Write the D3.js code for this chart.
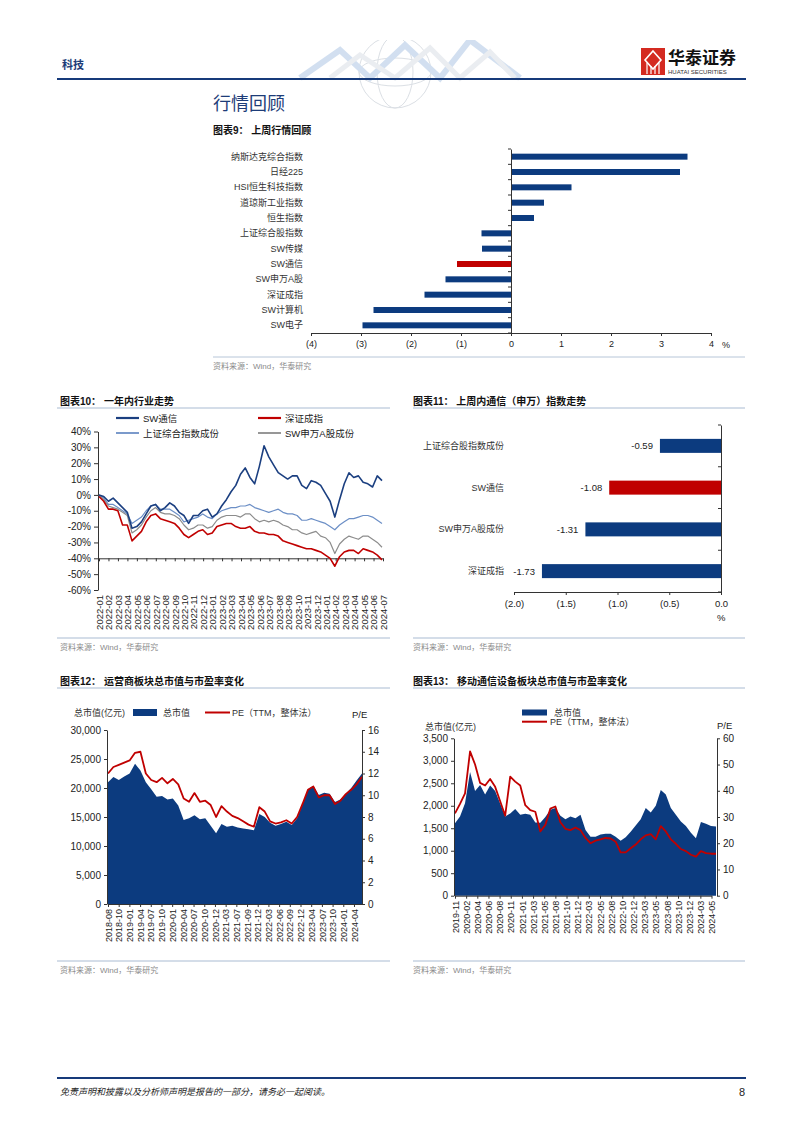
<!DOCTYPE html>
<html><head><meta charset="utf-8">
<script src="https://cdn.jsdelivr.net/npm/d3@7"></script>
<style>
body{margin:0;background:#fff}
svg{display:block}
text{font-family:"Liberation Sans","Noto Sans CJK SC",sans-serif}
</style>
</head><body>
<svg id="c" width="802" height="1133"></svg>
<script>
// ---------- DATA ----------
// Chart 9
const cats9 = ["纳斯达克综合指数","日经225","HSI恒生科技指数","道琼斯工业指数","恒生指数","上证综合股指数","SW传媒","SW通信","SW申万A股","深证成指","SW计算机","SW电子"];
const vals9 = [3.53,3.38,1.21,0.66,0.46,-0.59,-0.58,-1.08,-1.31,-1.73,-2.75,-2.97];
const ticks9 = [-4,-3,-2,-1,0,1,2,3,4];
// Chart 10 (half-month samples, 2022-01 .. 2024-07)
const months10 = ["2022-01","2022-02","2022-03","2022-04","2022-05","2022-06","2022-07","2022-08","2022-09","2022-10","2022-11","2022-12","2023-01","2023-02","2023-03","2023-04","2023-05","2023-06","2023-07","2023-08","2023-09","2023-10","2023-11","2023-12","2024-01","2024-02","2024-03","2024-04","2024-05","2024-06","2024-07"];
const swTongxin = [0,-1,-4,-2,-5,-8,-11,-21,-20,-17,-12,-7,-6,-10,-8,-5,-7,-11,-13,-18,-13,-13,-10,-9,-14,-12,-7,-3,2,6,13,17,11,7,18,31,24,19,14,12,10,12,12,6,4,9,8,6,1,-4,-14,-3,7,14,11,12,8,7,5,12,9];
const shangzheng = [0,-2,-6,-6,-8,-10,-12,-18,-16,-14,-10,-7,-6,-9,-9,-9,-11,-13,-17,-16,-15,-14,-12,-14,-15,-12,-10,-9,-8,-8,-7,-7,-6,-8,-9,-10,-11,-10,-9,-11,-12,-12,-13,-16,-16,-15,-16,-17,-18,-20,-22,-19,-17,-15,-15,-14,-13,-13,-14,-16,-18];
const swAll = [0,-3,-7,-8,-9,-11,-13,-24,-22,-19,-14,-10,-8,-11,-12,-12,-13,-15,-19,-22,-21,-19,-19,-21,-20,-16,-14,-13,-13,-13,-14,-12,-12,-15,-17,-16,-17,-16,-17,-19,-20,-22,-22,-24,-25,-24,-23,-26,-27,-30,-37,-31,-28,-26,-27,-28,-26,-26,-28,-30,-33];
const shenzheng = [-1,-4,-9,-9,-10,-19,-19,-29,-26,-23,-17,-13,-12,-15,-16,-17,-18,-21,-25,-27,-25,-23,-22,-25,-24,-20,-19,-18,-18,-20,-21,-21,-20,-23,-24,-24,-25,-25,-26,-29,-30,-31,-32,-33,-34,-34,-35,-36,-38,-40,-45,-39,-36,-35,-35,-37,-34,-35,-36,-38,-41];
const yTicks10 = [-60,-50,-40,-30,-20,-10,0,10,20,30,40];
// Chart 11
const cats11 = ["上证综合股指数成份","SW通信","SW申万A股成份","深证成指"];
const vals11 = [-0.59,-1.08,-1.31,-1.73];
const ticks11 = [-2,-1.5,-1,-0.5,0];
// Chart 12
const labels12 = ["2018-08","2018-10","2019-01","2019-04","2019-07","2019-10","2020-01","2020-04","2020-07","2020-10","2020-12","2021-03","2021-07","2021-09","2021-12","2022-03","2022-06","2022-09","2022-12","2023-04","2023-07","2023-10","2024-01","2024-04"];
const cap12 = [21000,21900,21400,22000,22500,24200,23000,21000,19800,18500,18600,18000,18200,17000,14500,14800,15300,14600,14800,13500,12200,13800,13300,13500,13200,13000,12900,12700,15500,15000,14000,13500,13800,14200,13600,14800,17200,19800,20400,18800,19200,19000,17600,18000,19000,20000,21300,22500];
const pe12 = [12.0,12.6,12.8,13.0,13.2,13.9,14.0,12.0,11.4,11.2,11.6,11.1,11.5,11.0,9.7,9.4,10.2,9.4,9.5,9.1,8.0,9.0,8.5,8.1,7.9,7.6,7.3,7.1,8.9,8.5,7.6,7.4,7.5,7.7,7.4,8.0,9.2,10.5,10.8,9.8,10.0,10.0,9.2,9.5,10.1,10.5,11.0,11.7];
const capTicks12 = [0,5000,10000,15000,20000,25000,30000];
const peTicks12 = [0,2,4,6,8,10,12,14,16];
// Chart 13
const labels13 = ["2019-11","2020-02","2020-04","2020-06","2020-08","2020-11","2021-01","2021-03","2021-05","2021-08","2021-10","2021-12","2022-03","2022-05","2022-08","2022-10","2022-12","2023-03","2023-05","2023-08","2023-10","2023-12","2024-03","2024-05"];
const cap13 = [1610,1760,2055,2750,2330,2460,2250,2450,2330,2050,1760,1830,1930,1800,1820,1800,1630,1620,1750,1910,1950,1780,1700,1760,1720,1800,1460,1310,1310,1360,1380,1380,1310,1220,1300,1420,1560,1700,1950,1850,2000,2350,2250,1950,1800,1650,1550,1400,1280,1640,1600,1550,1540];
const pe13 = [31.4,35,39,55,50,43,42,44.5,41.5,36,30.5,45.4,43.5,42,34.5,32.6,32,24.5,27,33.2,34,28,25.5,25,26,25,22,20,21,21.5,22,21.8,20.6,16.5,16.5,18.1,19.5,21.5,23,23.5,21.5,26.5,24.5,21.5,19.8,17.8,17,15.6,14.9,17,16.2,16,16];
const capTicks13 = [0,500,1000,1500,2000,2500,3000,3500];
const peTicks13 = [0,10,20,30,40,50,60];

// ---------- STYLE ----------
const NAVY = "#0c3b7f", RED = "#c00000", AX = "#333";
const svg = d3.select("#c");
svg.append("rect").attr("width",802).attr("height",1133).attr("fill","#fff");

function styleAxis(g, fs){
  g.selectAll("path.domain").attr("stroke",AX);
  g.selectAll(".tick line").attr("stroke",AX);
  g.selectAll("text").attr("fill","#222").style("font-size",(fs||10)+"px").style("font-family",'"Liberation Sans","Noto Sans CJK SC",sans-serif');
}
function txt(x,y,s,o){
  o=o||{};
  return svg.append("text").attr("x",x).attr("y",y).text(s)
    .style("font-size",(o.fs||9)+"px").attr("fill",o.fill||"#222")
    .attr("font-weight",o.fw||"normal").attr("text-anchor",o.anchor||"start")
    .attr("dominant-baseline","central").style("font-style",o.fi||"normal");
}
function hline(x1,x2,y,c,w){ svg.append("line").attr("x1",x1).attr("x2",x2).attr("y1",y).attr("y2",y).attr("stroke",c).attr("stroke-width",w||1); }
function source(x,y){ txt(x,y,"资料来源：Wind，华泰研究",{fs:8,fill:"#8a8a8a"}); }

// ---------- HEADER ----------
const deco = svg.append("g").attr("opacity",0.35);
deco.append("circle").attr("cx",395).attr("cy",72).attr("r",36).attr("fill","none").attr("stroke","#9aa6b5");
deco.append("ellipse").attr("cx",395).attr("cy",72).attr("rx",18).attr("ry",36).attr("fill","none").attr("stroke","#9aa6b5");
deco.append("ellipse").attr("cx",395).attr("cy",72).attr("rx",36).attr("ry",14).attr("fill","none").attr("stroke","#9aa6b5");
deco.append("polyline").attr("points","300,78 340,50 370,78 405,45 440,78 470,40 520,78").attr("fill","none").attr("stroke","#7fa6d6").attr("stroke-width",6);
deco.append("polyline").attr("points","330,78 360,55 395,78 430,48 460,78 490,52 515,78").attr("fill","none").attr("stroke","#c5cdd8").attr("stroke-width",5);
svg.append("rect").attr("x",290).attr("y",30).attr("width",240).attr("height",10).attr("fill","#fff");
txt(62,65,"科技",{fs:11,fw:"bold",fill:"#1d3c78"});
svg.append("rect").attr("x",641).attr("y",48).attr("width",24).attr("height",27).attr("fill","#d42a20");
svg.append("path").attr("d","M653,51 L661,60 L653,69 L645,60 Z").attr("fill","none").attr("stroke","#fff").attr("stroke-width",1.6);
svg.append("path").attr("d","M647,63 V74 M651,66 V74 M655,66 V74 M659,63 V74").attr("stroke","#fff").attr("stroke-width",1.2);
txt(668,58,"华泰证券",{fs:17,fw:"bold",fill:"#111"});
txt(668,72,"HUATAI SECURITIES",{fs:6,fill:"#333"});
hline(57,746,79,"#163a7a",2);
txt(213,104,"行情回顾",{fs:18,fill:"#1d3c78"});

// ---------- CHART 9 ----------
txt(213,130,"图表9：  上周行情回顾",{fs:10,fw:"bold",fill:"#111"});
const x9 = d3.scaleLinear().domain([-4,4]).range([311,711]);
const y9 = d3.scaleBand().domain(cats9).range([149,333]).padding(0);
svg.append("g").selectAll("rect").data(cats9).join("rect")
  .attr("x",(d,i)=>x9(Math.min(0,vals9[i])))
  .attr("width",(d,i)=>Math.abs(x9(vals9[i])-x9(0)))
  .attr("y",d=>y9(d)+y9.bandwidth()/2-3).attr("height",6)
  .attr("fill",d=>d==="SW通信"?RED:NAVY);
const gx9 = svg.append("g").attr("transform","translate(0,333)")
  .call(d3.axisBottom(x9).tickValues(ticks9).tickFormat(d=>d<0?`(${-d})`:`${d}`).tickSize(3).tickSizeOuter(0));
styleAxis(gx9,9);
gx9.selectAll("text").attr("dy","0.9em");
txt(722,345,"%",{fs:9});
const gy9 = svg.append("g").attr("transform",`translate(${x9(0)},0)`)
  .call(d3.axisLeft(y9).tickSize(0).tickFormat(""));
styleAxis(gy9);
svg.append("g").selectAll("line").data(d3.range(cats9.length+1)).join("line")
  .attr("x1",x9(0)-3).attr("x2",x9(0)).attr("y1",i=>149+i*y9.step()).attr("y2",i=>149+i*y9.step()).attr("stroke",AX);
svg.append("g").selectAll("text").data(cats9).join("text")
  .attr("x",303).attr("y",d=>y9(d)+y9.bandwidth()/2).text(d=>d)
  .attr("text-anchor","end").attr("dominant-baseline","central")
  .style("font-size","9px").attr("fill","#333");
hline(213,745,357,"#b7c6d8",1);
source(213,366);

// ---------- CHART 10 ----------
txt(60,401,"图表10：  一年内行业走势",{fs:10,fw:"bold",fill:"#111"});
hline(57,390,408,"#a9bbd2",1);
const x10 = d3.scaleLinear().domain([0,months10.length-1]).range([99,383]);
const y10 = d3.scaleLinear().domain([-60,40]).range([590,431.5]);
const xd10 = d3.scaleLinear().domain([0,swTongxin.length-1]).range([99,382]);
const gy10 = svg.append("g").attr("transform","translate(98,0)")
  .call(d3.axisLeft(y10).tickValues(yTicks10).tickFormat(d=>d+"%").tickSize(4).tickSizeOuter(0));
styleAxis(gy10,10);
const gx10 = svg.append("g").attr("transform",`translate(0,${y10(-40)})`)
  .call(d3.axisBottom(x10).tickValues(d3.range(months10.length)).tickFormat("").tickSize(3).tickSizeOuter(0));
styleAxis(gx10);
const gl10 = svg.append("g").attr("transform","translate(0,592)")
  .call(d3.axisBottom(x10).tickValues(d3.range(months10.length)).tickFormat(i=>months10[i]).tickSize(0));
gl10.select("path.domain").remove();
styleAxis(gl10,9.5);
gl10.selectAll("text").attr("transform","rotate(-90)").attr("x",-3).attr("y",0).attr("dy","0.35em").style("text-anchor","end");
const line10 = arr => d3.line().x((d,i)=>xd10(i)).y(d=>y10(d))(arr);
const series10 = [
  {name:"上证综合指数成份",data:shangzheng,c:"#6c8fc6",w:1.2},
  {name:"SW申万A股成份",data:swAll,c:"#8c8c8c",w:1.2},
  {name:"深证成指",data:shenzheng,c:RED,w:1.6},
  {name:"SW通信",data:swTongxin,c:"#1b3f80",w:1.6}
];
svg.append("g").selectAll("path").data(series10).join("path")
  .attr("d",s=>line10(s.data)).attr("fill","none").attr("stroke",s=>s.c).attr("stroke-width",s=>s.w).attr("stroke-linejoin","round");
const leg10 = [
  {s:series10[3],x:116,y:418},{s:series10[2],x:258,y:418},
  {s:series10[0],x:116,y:433},{s:series10[1],x:258,y:433}
];
leg10.forEach(l=>{
  svg.append("line").attr("x1",l.x).attr("x2",l.x+23).attr("y1",l.y).attr("y2",l.y).attr("stroke",l.s.c).attr("stroke-width",l.s.w+0.6);
  txt(l.x+27,l.y,l.s.name,{fs:9.5,fill:"#222"});
});
hline(57,390,638,"#a9bbd2",1);
source(60,647);

// ---------- CHART 11 ----------
txt(413,401,"图表11：  上周内通信（申万）指数走势",{fs:10,fw:"bold",fill:"#111"});
hline(413,745,408,"#a9bbd2",1);
const x11 = d3.scaleLinear().domain([-2,0]).range([514,721]);
const y11 = d3.scaleBand().domain(cats11).range([425,592]).padding(0);
svg.append("g").selectAll("rect").data(cats11).join("rect")
  .attr("x",(d,i)=>x11(vals11[i])).attr("width",(d,i)=>x11(0)-x11(vals11[i]))
  .attr("y",d=>y11(d)+y11.bandwidth()/2-7).attr("height",14)
  .attr("fill",d=>d==="SW通信"?RED:NAVY);
svg.append("g").selectAll("text").data(cats11).join("text")
  .attr("x",(d,i)=>x11(vals11[i])-7).attr("y",d=>y11(d)+y11.bandwidth()/2)
  .text((d,i)=>vals11[i].toFixed(2)).attr("text-anchor","end").attr("dominant-baseline","central")
  .style("font-size","9.5px").attr("fill","#222");
svg.append("g").selectAll("text").data(cats11).join("text")
  .attr("x",504).attr("y",d=>y11(d)+y11.bandwidth()/2).text(d=>d)
  .attr("text-anchor","end").attr("dominant-baseline","central").style("font-size","9px").attr("fill","#333");
const gx11 = svg.append("g").attr("transform","translate(0,592)")
  .call(d3.axisBottom(x11).tickValues(ticks11).tickFormat(d=>d<0?`(${(-d).toFixed(1)})`:d.toFixed(1)).tickSize(3).tickSizeOuter(0));
styleAxis(gx11,9.5);
gx11.selectAll("text").attr("dy","0.9em");
txt(717,617,"%",{fs:9.5});
const gy11 = svg.append("g").attr("transform",`translate(${x11(0)},0)`)
  .call(d3.axisRight(y11).tickSize(0).tickFormat(""));
styleAxis(gy11);
svg.append("g").selectAll("line").data(d3.range(cats11.length+1)).join("line")
  .attr("x1",x11(0)-3).attr("x2",x11(0)).attr("y1",i=>425+i*y11.step()).attr("y2",i=>425+i*y11.step()).attr("stroke",AX);
hline(413,745,638,"#a9bbd2",1);
source(413,647);

// ---------- CHART 12 ----------
txt(60,681,"图表12：  运营商板块总市值与市盈率变化",{fs:10,fw:"bold",fill:"#111"});
hline(57,390,688,"#a9bbd2",1);
const xd12 = d3.scaleLinear().domain([0,cap12.length-1]).range([108,362]);
const xt12 = d3.scaleLinear().domain([0,23.75]).range([108,362]);
const y12 = d3.scaleLinear().domain([0,30000]).range([904,730]);
const p12 = d3.scaleLinear().domain([0,16]).range([904,730]);
svg.append("path").attr("d",d3.area().x((d,i)=>xd12(i)).y0(904).y1(d=>y12(d))(cap12)).attr("fill",NAVY);
svg.append("path").attr("d",d3.line().x((d,i)=>xd12(i)).y(d=>p12(d))(pe12)).attr("fill","none").attr("stroke",RED).attr("stroke-width",1.8).attr("stroke-linejoin","round");
const gl12 = svg.append("g").attr("transform","translate(107,0)")
  .call(d3.axisLeft(y12).tickValues(capTicks12).tickFormat(d3.format(",")).tickSize(3).tickSizeOuter(0));
styleAxis(gl12,10);
const gr12 = svg.append("g").attr("transform","translate(362,0)")
  .call(d3.axisRight(p12).tickValues(peTicks12).tickSize(3).tickSizeOuter(0));
styleAxis(gr12,10);
const gx12 = svg.append("g").attr("transform","translate(0,904)")
  .call(d3.axisBottom(xt12).tickValues(d3.range(labels12.length)).tickFormat(i=>labels12[i]).tickSize(3).tickSizeOuter(0));
styleAxis(gx12,9);
gx12.selectAll("text").attr("transform","rotate(-90)").attr("x",-5).attr("y",0).attr("dy","0.35em").style("text-anchor","end");
txt(74,713,"总市值(亿元)",{fs:9,fill:"#333"});
svg.append("rect").attr("x",133).attr("y",709).attr("width",24).attr("height",7).attr("fill",NAVY);
txt(163,713,"总市值",{fs:9,fill:"#333"});
svg.append("line").attr("x1",205).attr("x2",230).attr("y1",712.5).attr("y2",712.5).attr("stroke",RED).attr("stroke-width",2);
txt(232,713,"PE（TTM，整体法）",{fs:9,fill:"#333"});
txt(352,714,"P/E",{fs:9.5,fill:"#222"});
hline(57,390,961,"#a9bbd2",1);
source(60,970);

// ---------- CHART 13 ----------
txt(413,681,"图表13：  移动通信设备板块总市值与市盈率变化",{fs:10,fw:"bold",fill:"#111"});
hline(413,745,688,"#a9bbd2",1);
const xd13 = d3.scaleLinear().domain([0,cap13.length-1]).range([455,716]);
const xt13 = d3.scaleLinear().domain([0,labels13.length-1]).range([455,711.5]);
const y13 = d3.scaleLinear().domain([0,3500]).range([895.7,738.3]);
const p13 = d3.scaleLinear().domain([0,60]).range([895.7,738.3]);
svg.append("path").attr("d",d3.area().x((d,i)=>xd13(i)).y0(895.7).y1(d=>y13(d))(cap13)).attr("fill",NAVY);
svg.append("path").attr("d",d3.line().x((d,i)=>xd13(i)).y(d=>p13(d))(pe13)).attr("fill","none").attr("stroke",RED).attr("stroke-width",1.8).attr("stroke-linejoin","round");
const gl13 = svg.append("g").attr("transform","translate(454,0)")
  .call(d3.axisLeft(y13).tickValues(capTicks13).tickFormat(d3.format(",")).tickSize(3).tickSizeOuter(0));
styleAxis(gl13,10);
const gr13 = svg.append("g").attr("transform","translate(717,0)")
  .call(d3.axisRight(p13).tickValues(peTicks13).tickSize(3).tickSizeOuter(0));
styleAxis(gr13,10);
const gx13 = svg.append("g").attr("transform","translate(0,895.7)")
  .call(d3.axisBottom(xt13).tickValues(d3.range(labels13.length)).tickFormat(i=>labels13[i]).tickSize(3).tickSizeOuter(0));
styleAxis(gx13,9);
gx13.selectAll("text").attr("transform","rotate(-90)").attr("x",-5).attr("y",0).attr("dy","0.35em").style("text-anchor","end");
svg.append("rect").attr("x",522).attr("y",709.5).attr("width",25).attr("height",6).attr("fill",NAVY);
txt(554,712.5,"总市值",{fs:9,fill:"#333"});
svg.append("line").attr("x1",522).attr("x2",547).attr("y1",721.7).attr("y2",721.7).attr("stroke",RED).attr("stroke-width",2);
txt(550,722,"PE（TTM，整体法）",{fs:9,fill:"#333"});
txt(425,727,"总市值(亿元)",{fs:9,fill:"#333"});
txt(717,725,"P/E",{fs:9.5,fill:"#222"});
hline(413,745,961,"#a9bbd2",1);
source(413,970);

// ---------- FOOTER ----------
hline(57,746,1078,"#163a7a",2);
txt(60,1092,"免责声明和披露以及分析师声明是报告的一部分，请务必一起阅读。",{fs:9,fill:"#222",fi:"italic"});
txt(745,1092,"8",{fs:11,fill:"#222",anchor:"end"});
</script>
</body></html>
